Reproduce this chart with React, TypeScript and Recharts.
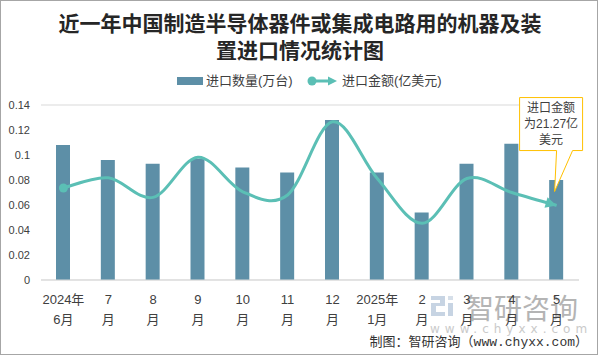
import React from 'react';
import { ComposedChart, Bar, Line, XAxis, YAxis, CartesianGrid } from 'recharts';

// ---- data ----
const categories = ['2024年\n6月', '7\n月', '8\n月', '9\n月', '10\n月', '11\n月', '12\n月', '2025年\n1月', '2\n月', '3\n月', '4\n月', '5\n月'];
const quantity = [0.108, 0.096, 0.093, 0.097, 0.09, 0.086, 0.128, 0.086, 0.054, 0.093, 0.109, 0.08];
const amount = [26.3, 29.2, 23.6, 35.1, 25.2, 24.3, 45.2, 29.0, 16.2, 29.0, 25.0, 21.27];
const yTicks = [0, 0.02, 0.04, 0.06, 0.08, 0.1, 0.12, 0.14];
const seriesNames = ['进口数量(万台)', '进口金额(亿美元)'];
const titleLines = ['近一年中国制造半导体器件或集成电路用的机器及装', '置进口情况统计图'];
const calloutLines = ['进口金额', '为21.27亿', '美元'];
const footerText = '制图：智研咨询（www.chyxx.com）';
const watermarkName = '智研咨询';
const watermarkUrl = 'www.chyxx.com';

const data = categories.map((c, i) => ({ month: c, quantity: quantity[i], amount: amount[i] }));

const BAR_COLOR = '#5D8FA7';
const LINE_COLOR = '#5BBFB5';
const TEXT_COLOR = '#404040';
const FONT = '"Liberation Sans", "Noto Sans CJK SC", sans-serif';

// Excel-like smoothing (Catmull-Rom through points)
function smoothCurve(context: any) {
  let pts: number[][] = [];
  return {
    areaStart() {},
    areaEnd() {},
    lineStart() {
      pts = [];
    },
    point(x: number, y: number) {
      pts.push([+x, +y]);
    },
    lineEnd() {
      const n = pts.length;
      if (!n) return;
      context.moveTo(pts[0][0], pts[0][1]);
      for (let i = 0; i < n - 1; i++) {
        const p0 = pts[i - 1] || pts[i];
        const p1 = pts[i];
        const p2 = pts[i + 1];
        const p3 = pts[i + 2] || p2;
        context.bezierCurveTo(
          p1[0] + (p2[0] - p0[0]) / 6,
          p1[1] + (p2[1] - p0[1]) / 6,
          p2[0] - (p3[0] - p1[0]) / 6,
          p2[1] - (p3[1] - p1[1]) / 6,
          p2[0],
          p2[1]
        );
      }
    },
  };
}

const XTick = (props: any) => {
  const { x, y, payload } = props;
  const parts = String(payload.value).split('\n');
  return (
    <g>
      <text x={x} y={y + 16} textAnchor="middle" fontSize={13} fill={TEXT_COLOR} fontFamily={FONT}>
        {parts[0]}
      </text>
      <text x={x} y={y + 36} textAnchor="middle" fontSize={13} fill={TEXT_COLOR} fontFamily={FONT}>
        {parts[1]}
      </text>
    </g>
  );
};

const LineDot = (props: any) => {
  const { cx, cy, index, points } = props;
  const last = data.length - 1;
  if (index === 0) {
    return <circle key={`d${index}`} cx={cx} cy={cy} r={4.5} fill={LINE_COLOR} />;
  }
  if (index === last) {
    let ang = 0.26;
    if (points && points.length > 1) {
      const p = points[points.length - 2];
      ang = Math.atan2(cy - p.y, cx - p.x);
    }
    const deg = (ang * 180) / Math.PI;
    const boxPath = `M${cx - 37},${cy - 108} H${cx + 26} V${cy - 55} H${cx + 16} L${cx - 2},${cy - 14} L${cx},${cy - 55} H${cx - 37} Z`;
    return (
      <g key={`d${index}`}>
        <polygon points="0,0 -11,-5.5 -11,5.5" fill={LINE_COLOR} transform={`translate(${cx},${cy}) rotate(${deg})`} />
        <path d={boxPath} fill="#fff" stroke="#FFC000" strokeWidth={1} />
        {calloutLines.map((t, i) => (
          <text key={i} x={cx - 5.5} y={cy - 94 + i * 16} textAnchor="middle" fontSize={12} fill={TEXT_COLOR} fontFamily={FONT}>
            {t}
          </text>
        ))}
      </g>
    );
  }
  return <g key={`d${index}`} />;
};

const Logo = () => (
  <svg width={28} height={24} style={{ position: 'absolute', left: 430, top: 294 }}>
    <path d="M1,2 H15 V12 H6 V18 H15 V22 H1 V9 H10 V6 H1 Z" fill="#c7d4e3" />
    <rect x={18} y={9} width={5} height={13} fill="#c7d4e3" />
    <rect x={18} y={2} width={5} height={4} fill="#d6dfe9" />
  </svg>
);

export default function App() {
  return (
    <div
      style={{
        position: 'absolute',
        left: 0,
        top: 0,
        width: 600,
        height: 356,
        background: '#fff',
        overflow: 'hidden',
        fontFamily: FONT,
      }}
    >
      {/* watermark (behind chart) */}
      <Logo />
      <div
        style={{
          position: 'absolute',
          left: 466,
          top: 292,
          fontSize: 28,
          lineHeight: '30px',
          color: '#b4b4b4',
          fontFamily: '"Noto Sans CJK SC", sans-serif',
          whiteSpace: 'nowrap',
        }}
      >
        {watermarkName}
      </div>
      <div
        style={{
          position: 'absolute',
          left: 430,
          top: 321,
          fontSize: 12,
          lineHeight: '16px',
          letterSpacing: 5,
          color: '#cacaca',
          fontFamily: '"DejaVu Sans", sans-serif',
          whiteSpace: 'nowrap',
        }}
      >
        {watermarkUrl}
      </div>

      <div style={{ position: 'absolute', left: 0, top: 0 }}>
        <ComposedChart width={600} height={356} data={data} margin={{ top: 105, right: 21, bottom: 0, left: 0 }}>
          <CartesianGrid vertical={false} stroke="#d9d9d9" />
          <XAxis
            dataKey="month"
            height={76}
            interval={0}
            tickLine={false}
            axisLine={{ stroke: '#d9d9d9' }}
            tick={<XTick />}
          />
          <YAxis
            yAxisId="left"
            width={41}
            domain={[0, 0.14]}
            ticks={yTicks}
            interval={0}
            tickLine={false}
            axisLine={false}
            tickMargin={5}
            tick={{ fontSize: 11, fill: TEXT_COLOR, fontFamily: FONT }}
            tickFormatter={(v: number) => String(Number(v.toFixed(2)))}
          />
          <YAxis yAxisId="right" orientation="right" domain={[0, 50]} hide />
          <Bar yAxisId="left" dataKey="quantity" fill={BAR_COLOR} barSize={14} isAnimationActive={false} />
          <Line
            yAxisId="right"
            dataKey="amount"
            type={smoothCurve as any}
            stroke={LINE_COLOR}
            strokeWidth={3}
            dot={(p: any) => <LineDot {...p} />}
            activeDot={false}
            isAnimationActive={false}
          />
        </ComposedChart>
      </div>

      {/* title */}
      <div
        style={{
          position: 'absolute',
          left: 0,
          top: 9,
          width: 600,
          textAlign: 'center',
          fontSize: 21,
          lineHeight: '27px',
          fontWeight: 700,
          color: '#262626',
          fontFamily: '"Noto Sans CJK SC", sans-serif',
        }}
      >
        {titleLines[0]}
        <br />
        {titleLines[1]}
      </div>

      {/* legend */}
      <div style={{ position: 'absolute', left: 177, top: 77, width: 26, height: 8, background: BAR_COLOR }} />
      <div style={{ position: 'absolute', left: 206, top: 72, fontSize: 13, lineHeight: '17px', color: TEXT_COLOR, whiteSpace: 'nowrap' }}>
        {seriesNames[0]}
      </div>
      <svg width={32} height={12} style={{ position: 'absolute', left: 306, top: 75 }}>
        <line x1={6} y1={6} x2={24} y2={6} stroke={LINE_COLOR} strokeWidth={3} />
        <circle cx={6} cy={6} r={4.5} fill={LINE_COLOR} />
        <polygon points="31,6 22,1.5 22,10.5" fill={LINE_COLOR} />
      </svg>
      <div style={{ position: 'absolute', left: 342, top: 72, fontSize: 13, lineHeight: '17px', color: TEXT_COLOR, whiteSpace: 'nowrap' }}>
        {seriesNames[1]}
      </div>

      {/* footer */}
      <div
        style={{
          position: 'absolute',
          right: 12,
          top: 334,
          fontSize: 13,
          lineHeight: '17px',
          color: '#333',
          fontFamily: '"Liberation Mono", "Noto Sans CJK SC", monospace',
          whiteSpace: 'nowrap',
        }}
      >
        {footerText}
      </div>

      {/* frame */}
      <div
        style={{
          position: 'absolute',
          left: 0,
          top: 0,
          width: 598,
          height: 355,
          border: '1.5px solid #a6a6a6',
          boxSizing: 'border-box',
          pointerEvents: 'none',
        }}
      />
    </div>
  );
}
